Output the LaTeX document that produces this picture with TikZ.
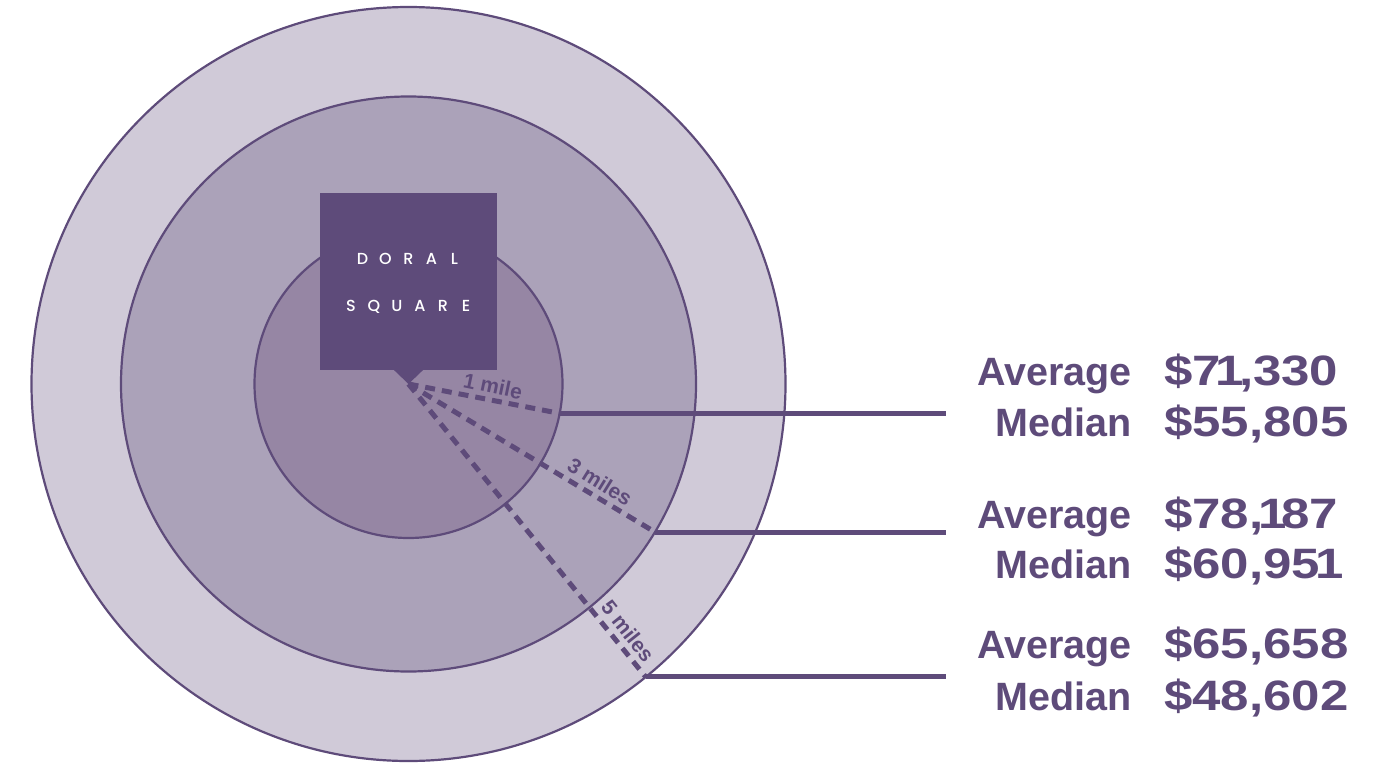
\documentclass[tikz,border=0pt]{standalone}
\usepackage{fontspec}
\usepackage{graphicx}
\setmainfont{Liberation Sans}
\newfontfamily\boxfont{Poppins Medium}
\definecolor{dpurple}{RGB}{94,75,122}
\definecolor{ring5c}{RGB}{208,202,216}
\definecolor{ring3c}{RGB}{171,162,185}
\definecolor{ring1c}{RGB}{150,134,164}
\newcommand\ltr[1]{\makebox[23pt][c]{#1}}
\newcommand\one{\kern-0.1em 1\kern-0.1em}
\newcommand\val[1]{\scalebox{1.2}[1]{\fontsize{42.5}{42.5}\selectfont\bfseries #1}}
\begin{document}
\begin{tikzpicture}[x=1pt,y=-1pt,
  ring/.style={circle, draw=dpurple, line width=2.2pt, inner sep=0pt, outer sep=0pt},
  dashline/.style={draw=dpurple, line width=5pt, dash pattern=on 10pt off 7pt},
  solidline/.style={draw=dpurple, line width=5pt},
  milelabel/.style={text=dpurple, font=\fontsize{21}{21}\selectfont\bfseries, inner sep=0pt},
  lbl/.style={text=dpurple, font=\fontsize{39.5}{39.5}\selectfont\bfseries, inner sep=0pt, anchor=base east},
  valtext/.style={text=dpurple, inner sep=0pt, anchor=base west},
  boxtext/.style={text=white, font=\boxfont\fontsize{16}{16}\selectfont, inner sep=0pt, anchor=base}
]
\useasboundingbox (0,0) rectangle (1385,766);
\coordinate (C) at (408.5,384);
% rings
\node[ring, fill=ring5c, minimum size=754pt] (ring5) at (C) {};
\node[ring, fill=ring3c, minimum size=575pt] (ring3) at (C) {};
\node[ring, fill=ring1c, minimum size=308pt] (ring1) at (C) {};
% marker box
\node[fill=dpurple, minimum width=177pt, minimum height=177pt, inner sep=0pt] (box) at (408.5,281.35) {};
\fill[dpurple] ([xshift=-14.5pt]box.south) -- (C) -- ([xshift=14.5pt]box.south) -- cycle;
\node[boxtext] (doral) at (408.5,264.5) {\ltr{D}\ltr{O}\ltr{R}\ltr{A}\ltr{L}};
\node[boxtext] (square) at (408.5,311.5) {\ltr{S}\ltr{Q}\ltr{U}\ltr{A}\ltr{R}\ltr{E}};
% end points
\coordinate (e1) at (ring1.-11.8);
\coordinate (e3) at (ring3.-31.8);
\coordinate (e5) at (ring5.-51.6);
\coordinate (t1) at (945.7,0);
\coordinate (t3) at (945.7,0);
\coordinate (t5) at (945.7,0);
% radii
\draw[dashline] (C) -- (e1);
\draw[dashline] (C) -- (e3);
\draw[dashline] (C) -- (e5);
\draw[solidline] (e1) -- (e1 -| t1);
\draw[solidline] (e3) -- (e3 -| t3);
\draw[solidline] (e5) -- (e5 -| t5);
% mile labels
\node[milelabel, rotate=-11.8] (m1) at (493,386) {1 mile};
\node[milelabel, rotate=-31.8] (m3) at (600,482) {3 miles};
\node[milelabel, rotate=-51.6] (m5) at (628,631) {5 miles};
% income labels
\node[lbl] (a1) at (1131.7,385) {Average};
\node[lbl] (md1) at (1131.7,436) {Median};
\node[lbl] (a3) at (1131.7,528.3) {Average};
\node[lbl] (md3) at (1131.7,578.3) {Median};
\node[lbl] (a5) at (1131.7,658.3) {Average};
\node[lbl] (md5) at (1131.7,710) {Median};
\node[valtext] (v1a) at (1164,385) {\val{\$7\one,330}};
\node[valtext] (v1m) at (1164,436) {\val{\$55,805}};
\node[valtext] (v3a) at (1164,528.3) {\val{\$78,\one87}};
\node[valtext] (v3m) at (1164,578.3) {\val{\$60,95\one}};
\node[valtext] (v5a) at (1164,658.3) {\val{\$65,658}};
\node[valtext] (v5m) at (1164,710) {\val{\$48,602}};
\end{tikzpicture}
\end{document}
